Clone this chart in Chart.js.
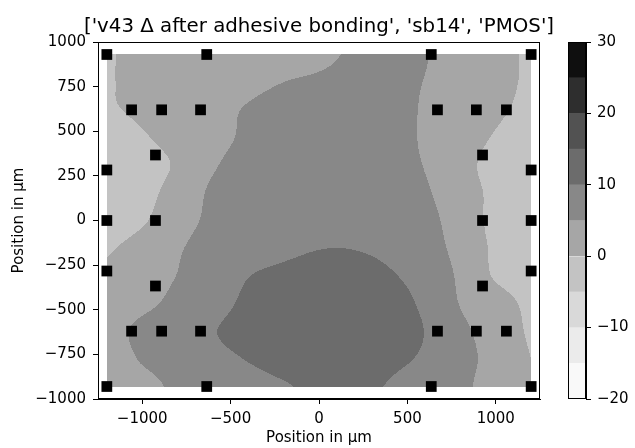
<!DOCTYPE html>
<html>
<head>
<meta charset="utf-8">
<script src="https://cdn.jsdelivr.net/npm/chart.js@4/dist/chart.umd.min.js"></script>
<style>
  html, body { margin: 0; padding: 0; background: #fff; }
  #wrap { position: relative; width: 635px; height: 448px; }
  canvas { position: absolute; left: 0; top: 0; }
  #cbar { pointer-events: none; }
</style>
</head>
<body>
<div id="wrap">
  <canvas id="canvas" width="635" height="448"></canvas>
  <canvas id="cbar" width="635" height="448"></canvas>
</div>
<script>
// measurement sites (µm)
const siteX = [-1200, -635, 635, 1200,
  -1060, -890, -670, 670, 890, 1060,
  -925, 925,
  -1200, 1200,
  -1200, -925, 925, 1200,
  -1200, 1200,
  -925, 925,
  -1060, -890, -670, 670, 890, 1060,
  -1200, -635, 635, 1200];
const siteY = [930, 930, 930, 930,
  620, 620, 620, 620, 620, 620,
  367, 367,
  283, 283,
  0, 0, 0, 0,
  -283, -283,
  -367, -367,
  -620, -620, -620, -620, -620, -620,
  -930, -930, -930, -930];

// field on a regular grid (x columns, y rows top->bottom)
const gridX = [-1200, -1000, -800, -600, -400, -200, 0, 200, 400, 600, 800, 1000, 1200];
const gridY = [930, 775, 620, 465, 310, 155, 0, -155, -310, -465, -620, -775, -930];
const gridZ = [
  [-0.3, 1.2, 1.9, 2.5, 3.1, 3.7, 4.43, 5.45, 7, 5.2, 3.3, 1.37, -0.5],
  [-0.3, 1.3, 2.2, 3.0, 4.0, 5.0, 5.5, 6, 6, 4.9, 3.2, 1.4, -0.6],
  [-0.55, 0.97, 2.42, 3.87, 5.3, 6.5, 7.2, 7.5, 6.5, 4.6, 2.73, 0.85, -1.2],
  [-3, -0.5, 1.6, 3.9, 5.6, 7, 7.8, 8, 7, 4.4, 1.96, -0.4, -3],
  [-3.5, -1.8, 0.6, 4.6, 6.2, 7.3, 8, 8, 7, 4.8, 1.5, -1.5, -3.5],
  [-3.5, -1.5, 1.9, 5.7, 6.8, 7.7, 8.3, 8.5, 8, 5.6, 2.07, -1, -3],
  [-3, -0.6, 3.3, 5.8, 7, 8, 8.8, 9.2, 8.5, 6.5, 2.74, -1.2, -3],
  [-0.5, 2.1, 4.6, 6.5, 7.8, 9, 9.9, 9.9, 9, 7, 3.5, -0.8, -2.5],
  [0.8, 3.3, 5.1, 7.5, 9.9, 11, 11.8, 11.8, 10.4, 8.3, 4.2, -0.5, -2.5],
  [2.5, 4.1, 6.1, 8.6, 10.7, 11.8, 12.3, 12.2, 11.4, 9.2, 4.8, 2.2, -1],
  [3.5, 6, 7.8, 9.8, 11.2, 12.2, 12.7, 12.5, 11.8, 9.9, 6, 3, -0.5],
  [2.5, 5.4, 7.2, 8.9, 10.2, 11.5, 11.8, 11.5, 10.8, 9.4, 6.4, 3.5, 0],
  [1, 3.4, 5.9, 7.4, 8.5, 9.7, 10.7, 10.5, 9.8, 8.0, 6, 3, 0.3]
];

const levels = [-20, -15, -10, -5, 0, 5, 10, 15, 20, 25, 30];
const bandColors = ['#f9f9f9', '#ebebeb', '#d9d9d9', '#c3c3c3', '#a6a6a6',
  '#888888', '#6c6c6c', '#525252', '#2e2e2e', '#0f0f0f'];

const xTicks = [-1000, -500, 0, 500, 1000];
const cbTicks = [-20, -10, 0, 10, 20, 30];
const titleText = "['v43 \u0394 after adhesive bonding', 'sb14', 'PMOS']";

const FONT = 'DejaVu Sans';
const minus = v => String(v).replace('-', '\u2212');

function hexRgb(h) {
  return [parseInt(h.slice(1, 3), 16), parseInt(h.slice(3, 5), 16), parseInt(h.slice(5, 7), 16)];
}
const bandRgb = bandColors.map(hexRgb);

function zAt(r, c) {
  r = Math.max(0, Math.min(gridY.length - 1, r));
  c = Math.max(0, Math.min(gridX.length - 1, c));
  return gridZ[r][c];
}
function cr(p0, p1, p2, p3, t) {
  return p1 + 0.5 * t * (p2 - p0 + t * (2 * p0 - 5 * p1 + 4 * p2 - p3 + t * (3 * (p1 - p2) + p3 - p0)));
}
function sample(x, y) {
  const gx = (x - gridX[0]) / (gridX[1] - gridX[0]);
  const gy = (gridY[0] - y) / (gridY[0] - gridY[1]);
  const c = Math.min(Math.floor(gx), gridX.length - 2), r = Math.min(Math.floor(gy), gridY.length - 2);
  const tx = gx - c, ty = gy - r;
  const rows = [];
  for (let k = -1; k <= 2; k++) {
    rows.push(cr(zAt(r + k, c - 1), zAt(r + k, c), zAt(r + k, c + 1), zAt(r + k, c + 2), tx));
  }
  return cr(rows[0], rows[1], rows[2], rows[3], ty);
}

const contourPlugin = {
  id: 'contour',
  beforeDatasetsDraw(chart) {
    const xs = chart.scales.x, ys = chart.scales.y, ctx = chart.ctx;
    const x0 = Math.round(xs.getPixelForValue(gridX[0]));
    const x1 = Math.round(xs.getPixelForValue(gridX[gridX.length - 1]));
    const y0 = Math.round(ys.getPixelForValue(gridY[0]));
    const y1 = Math.round(ys.getPixelForValue(gridY[gridY.length - 1]));
    const w = x1 - x0, h = y1 - y0;
    const img = ctx.createImageData(w, h);
    for (let j = 0; j < h; j++) {
      const vy = ys.getValueForPixel(y0 + j + 0.5);
      for (let i = 0; i < w; i++) {
        const vx = xs.getValueForPixel(x0 + i + 0.5);
        const z = sample(vx, vy);
        let b = Math.floor((z - levels[0]) / (levels[1] - levels[0]));
        b = Math.max(0, Math.min(bandRgb.length - 1, b));
        const p = (j * w + i) * 4, col = bandRgb[b];
        img.data[p] = col[0]; img.data[p + 1] = col[1]; img.data[p + 2] = col[2]; img.data[p + 3] = 255;
      }
    }
    ctx.putImageData(img, x0, y0);
  }
};

const framePlugin = {
  id: 'frame',
  afterDraw(chart) {
    const a = chart.chartArea, ctx = chart.ctx;
    ctx.save();
    ctx.strokeStyle = '#000';
    ctx.lineWidth = 1;
    ctx.strokeRect(Math.round(a.left) + 0.5, Math.round(a.top) + 0.5,
      Math.round(a.right - a.left) - 1, Math.round(a.bottom - a.top) - 1);
    ctx.restore();
  }
};

// title centred over the plot area, like matplotlib's axes title
const titlePlugin = {
  id: 'axTitle',
  afterDraw(chart) {
    const a = chart.chartArea, ctx = chart.ctx;
    ctx.save();
    ctx.fillStyle = '#000';
    ctx.font = '19.8px "DejaVu Sans"';
    ctx.textAlign = 'center';
    ctx.textBaseline = 'alphabetic';
    ctx.fillText(titleText, (a.left + a.right) / 2, 31.5);
    ctx.restore();
  }
};

const tickFont = { family: FONT, size: 15 };

new Chart(document.getElementById('canvas').getContext('2d'), {
  type: 'scatter',
  data: {
    datasets: [{
      data: siteX.map((x, i) => ({ x: x, y: siteY[i] })),
      pointStyle: 'rect',
      pointRadius: 7.6,
      pointHoverRadius: 7.6,
      backgroundColor: '#000',
      borderWidth: 0
    }]
  },
  options: {
    responsive: false,
    animation: false,
    devicePixelRatio: 1,
    events: [],
    layout: { padding: { left: 0, right: 95, top: 42, bottom: 0 } },
    plugins: {
      legend: { display: false },
      tooltip: { enabled: false },
      title: { display: false }
    },
    scales: {
      x: {
        type: 'linear',
        min: -1250,
        max: 1250,
        afterBuildTicks: s => { s.ticks = xTicks.map(v => ({ value: v })); },
        afterFit: s => { s.height = 49; },
        ticks: { color: '#000', font: tickFont, padding: 6, callback: minus },
        grid: { drawOnChartArea: false, tickLength: 5, color: '#000' },
        border: { color: '#000' },
        title: { display: true, text: 'Position in \u00b5m', color: '#000', font: tickFont, padding: { top: 0, bottom: 1 } }
      },
      y: {
        type: 'linear',
        min: -1000,
        max: 1000,
        afterFit: s => { s.width = 98; },
        ticks: { color: '#000', font: tickFont, padding: 7, stepSize: 250, callback: minus },
        grid: { drawOnChartArea: false, tickLength: 5, color: '#000' },
        border: { color: '#000' },
        title: { display: true, text: 'Position in \u00b5m', color: '#000', font: tickFont, padding: { top: 10, bottom: 0 } }
      }
    }
  },
  plugins: [contourPlugin, framePlugin, titlePlugin]
});

// colour bar
new Chart(document.getElementById('cbar').getContext('2d'), {
  type: 'bar',
  data: {
    labels: ['cb'],
    datasets: bandColors.map((c, i) => ({
      data: [[levels[i], levels[i + 1]]],
      backgroundColor: c,
      borderWidth: 0,
      grouped: false,
      barPercentage: 1,
      categoryPercentage: 1
    }))
  },
  options: {
    responsive: false,
    animation: false,
    devicePixelRatio: 1,
    events: [],
    layout: { padding: { left: 568, right: 0, top: 42, bottom: 49 } },
    plugins: { legend: { display: false }, tooltip: { enabled: false }, title: { display: false } },
    scales: {
      x: { display: false },
      y: {
        position: 'right',
        min: levels[0],
        max: levels[levels.length - 1],
        afterBuildTicks: s => { s.ticks = cbTicks.map(v => ({ value: v })); },
        afterFit: s => { s.width = 49; },
        ticks: { color: '#000', font: tickFont, padding: 6, callback: minus },
        grid: { drawOnChartArea: false, tickLength: 5, color: '#000' },
        border: { color: '#000' }
      }
    }
  },
  plugins: [framePlugin]
});
</script>
</body>
</html>
